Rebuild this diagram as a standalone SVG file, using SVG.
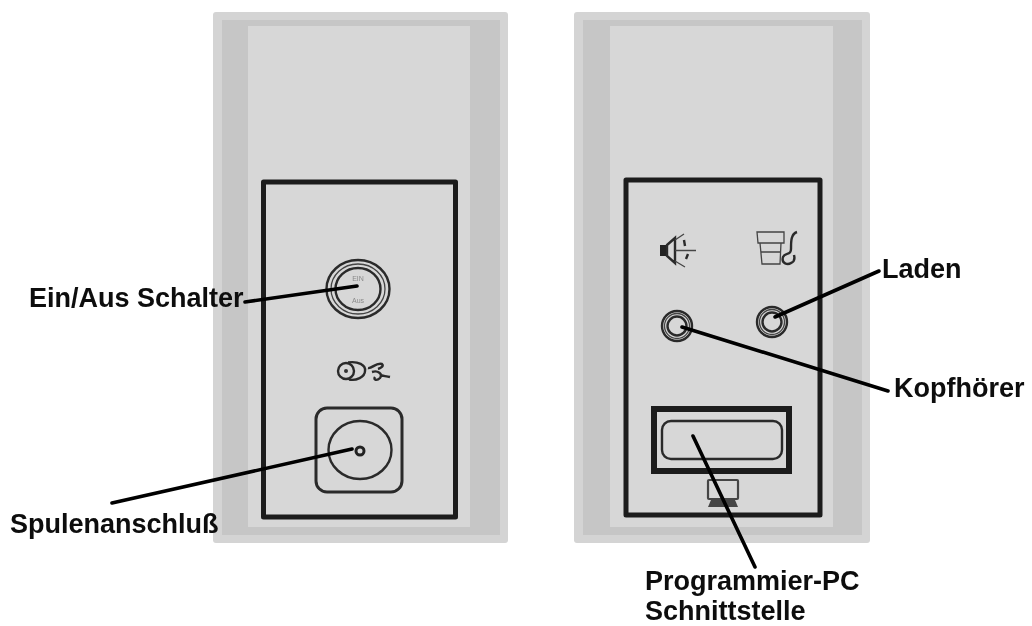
<svg xmlns="http://www.w3.org/2000/svg" width="1032" height="626" viewBox="0 0 1032 626">
<style>
.outer{fill:#d4d4d4}.band{fill:#c6c6c6}.light{fill:#d7d7d7}
.frame{fill:none;stroke:#1c1c1c;stroke-width:5;stroke-linejoin:round}
.ink{fill:none;stroke:#2a2a2a;stroke-width:2.400}
.thin{fill:none;stroke:#444;stroke-width:1.300}
.lead{fill:none;stroke:#000;stroke-width:3.600;stroke-linecap:round}
.label{font-family:"Liberation Sans",Arial,sans-serif;font-weight:700;font-size:27px;fill:#0a0a0a}
.tiny{font-family:"Liberation Sans",Arial,sans-serif;font-size:7px;fill:#8a8a8a;text-anchor:middle}
</style>
<defs>
<filter id="soft" x="-5%" y="-5%" width="110%" height="110%"><feGaussianBlur stdDeviation="0.7"/></filter>
<filter id="softer" x="-5%" y="-20%" width="110%" height="140%"><feGaussianBlur stdDeviation="0.4"/></filter>
</defs>
<rect width="1032" height="626" fill="#fff"/>
<g id="panel-left" filter="url(#soft)">
<rect class="outer" x="213" y="12" width="295" height="531" rx="3"/>
<rect class="band" x="222" y="20" width="278" height="515"/>
<rect class="light" x="248" y="26" width="222" height="501"/>
<rect class="frame" x="263.500" y="182" width="192" height="335"/>
</g>
<g id="switch" filter="url(#soft)">
<ellipse class="ink" cx="358" cy="289" rx="31.500" ry="29"/>
<ellipse class="thin" cx="358" cy="289" rx="27" ry="25"/>
<ellipse class="ink" cx="358" cy="289" rx="22.500" ry="21"/>
<text class="tiny" x="358" y="281">EIN</text>
<text class="tiny" x="358" y="303">Aus</text>
</g>
<g id="coil-symbol" filter="url(#soft)">
<circle class="ink" cx="346" cy="371" r="8"/>
<circle cx="346" cy="371" r="2" fill="#333"/>
<path class="ink" stroke-width="3" d="M348 362.500C358 361 366 365 365 371C365 377 356 381 349 379.500"/>
<path class="ink" d="M368 368C372 369 376 362 382 364C384 366 381 368 378 369M372 372C378 370 383 374 380 378C377 381 373 380 375 377M380 375C383 376 386 376 390 377"/>
</g>
<g id="coil-socket" filter="url(#soft)">
<rect x="316" y="408" width="86" height="84" rx="11" fill="none" stroke="#2a2a2a" stroke-width="3"/>
<ellipse class="ink" cx="360" cy="450" rx="31.500" ry="29"/>
<circle cx="360" cy="451" r="4" fill="none" stroke="#222" stroke-width="3"/>
</g>
<g id="panel-right" filter="url(#soft)">
<rect class="outer" x="574" y="12" width="296" height="531" rx="3"/>
<rect class="band" x="583" y="20" width="279" height="515"/>
<rect class="light" x="610" y="26" width="223" height="501"/>
<rect class="frame" x="626" y="180" width="194" height="335"/>
</g>
<g id="speaker-symbol" filter="url(#soft)">
<rect x="660" y="245" width="7" height="11" fill="#222"/>
<path class="ink" d="M667 245L675 238V263L667 256Z"/>
<path class="thin" d="M675 250.500H696M675 240L684 234M675 261L685 267"/>
<path class="ink" d="M684 240L685 246M688 254L686 259"/>
</g>
<g id="charge-symbol" filter="url(#soft)">
<path class="thin" stroke-width="1.800" d="M757 232H784V243H758ZM760 243L762 264H780L781 243M761 252H781"/>
<path class="ink" d="M797 232C791 234 791 241 791 249C791 256 785 252 783 257C781 264 788 265 791 263C794 262 795 259 794 255"/>
</g>
<g id="headphone-jack" filter="url(#soft)">
<circle class="ink" cx="677" cy="326" r="15"/>
<circle class="thin" cx="677" cy="326" r="12.500"/>
<circle class="ink" cx="677" cy="326" r="9.500"/>
</g>
<g id="charge-jack" filter="url(#soft)">
<circle class="ink" cx="772" cy="322" r="15"/>
<circle class="thin" cx="772" cy="322" r="12.500"/>
<circle class="ink" cx="772" cy="322" r="9.500"/>
</g>
<g id="pc-port" filter="url(#soft)">
<rect x="654" y="409" width="135" height="62" fill="none" stroke="#1c1c1c" stroke-width="6"/>
<rect x="662" y="421" width="120" height="38" rx="9" fill="none" stroke="#2a2a2a" stroke-width="2.400"/>
</g>
<g id="pc-symbol" filter="url(#soft)">
<rect x="708" y="480" width="30" height="19" rx="1" fill="none" stroke="#444" stroke-width="2.200"/>
<path d="M711 500H735L738 507H708Z" fill="#444"/>
</g>
<g id="connectors" filter="url(#softer)">
<path class="lead" d="M245 302L357 286"/>
<path class="lead" d="M112 503L352 449"/>
<path class="lead" d="M879 271L775 317"/>
<path class="lead" d="M888 391L682 327"/>
<path class="lead" d="M693 436L755 567"/>
</g>
<g id="labels" filter="url(#softer)">
<text class="label" x="29" y="307">Ein/Aus Schalter</text>
<text class="label" x="10" y="533">Spulenanschluß</text>
<text class="label" x="882" y="278">Laden</text>
<text class="label" x="894" y="397">Kopfhörer</text>
<text class="label" x="645" y="590">Programmier-PC</text>
<text class="label" x="645" y="620">Schnittstelle</text>
</g>
</svg>
